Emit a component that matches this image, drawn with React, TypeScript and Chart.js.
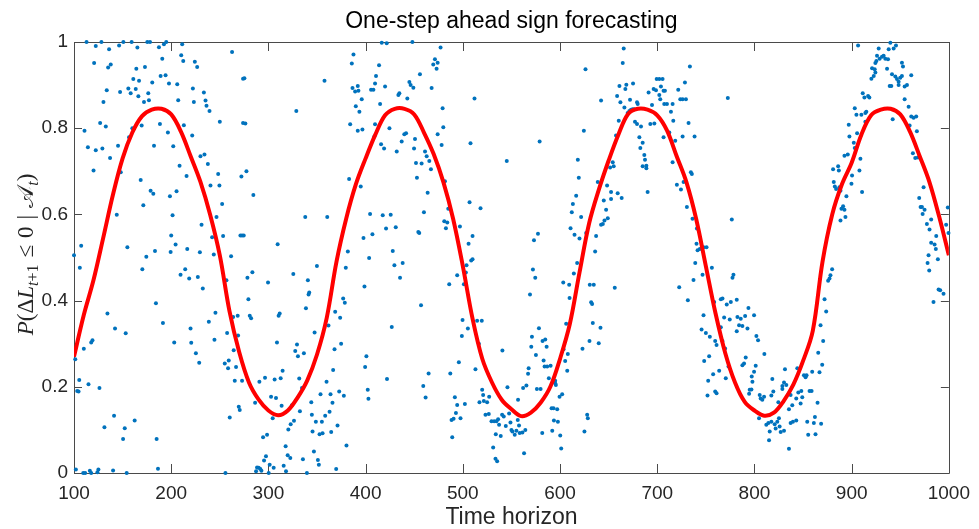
import React, { useEffect, useRef } from "react";
import { Chart, registerables } from "chart.js";

Chart.register(...registerables);

// ---------------- data ----------------
const chartTitle = "One-step ahead sign forecasting";
const xAxisLabel = "Time horizon";

const xTicks = [100, 200, 300, 400, 500, 600, 700, 800, 900, 1000];
const xTickLabels = ["100", "200", "300", "400", "500", "600", "700", "800", "900", "1000"];
const yTicks = [0, 0.2, 0.4, 0.6, 0.8, 1];
const yTickLabels = ["0", "0.2", "0.4", "0.6", "0.8", "1"];

// red fitted curve
const lineX = [
  100, 110, 120, 130, 140, 150, 160, 170, 180, 190, 200, 210, 220, 230, 240, 250, 260, 270, 280, 290,
  300, 310, 320, 330, 340, 350, 360, 370, 380, 390, 400, 410, 420, 430, 440, 450, 460, 470, 480, 490,
  500, 510, 520, 530, 540, 550, 560, 570, 580, 590, 600, 610, 620, 630, 640, 650, 660, 670, 680, 690,
  700, 710, 720, 730, 740, 750, 760, 770, 780, 790, 800, 810, 820, 830, 840, 850, 860, 870, 880, 890,
  900, 910, 920, 930, 940, 950, 960, 970, 980, 990, 1000,
];
const lineY = [
  0.27, 0.366, 0.447, 0.545, 0.645, 0.73, 0.79, 0.828, 0.843, 0.845, 0.832, 0.792, 0.735, 0.676, 0.6, 0.505, 0.375, 0.28, 0.21, 0.17,
  0.145, 0.134, 0.145, 0.175, 0.215, 0.275, 0.36, 0.49, 0.59, 0.67, 0.73, 0.785, 0.83, 0.845, 0.845, 0.832, 0.79, 0.74, 0.675, 0.59,
  0.48, 0.358, 0.265, 0.21, 0.17, 0.148, 0.132, 0.14, 0.163, 0.2, 0.265, 0.345, 0.465, 0.58, 0.658, 0.725, 0.785, 0.833, 0.845, 0.843,
  0.83, 0.795, 0.735, 0.675, 0.59, 0.48, 0.37, 0.278, 0.21, 0.165, 0.145, 0.133, 0.14, 0.167, 0.205, 0.26, 0.33, 0.49, 0.6, 0.67,
  0.72, 0.785, 0.83, 0.843, 0.845, 0.832, 0.792, 0.735, 0.675, 0.595, 0.505,
];

// blue observations [time, probability]
const scatterPoints: [number, number][] = [
  [112.9, 1.0], [110.8, 0.794], [114.3, 0.756], [120.1, 0.702], [107.4, 0.527], [100, 0.505], [106, 0.476], [110.1, 0.288],
  [117.7, 0.303], [119, 0.308], [101.3, 0.264], [105.4, 0.216], [103.3, 0.19], [104.7, 0.189], [114.9, 0.206], [101.9, 0.008],
  [109.5, 0], [111.5, 0], [116.3, 0.005], [117.7, 0],
  [128.2, 1.0], [146.4, 0.992], [150.8, 1.0], [159.3, 1.0], [136.1, 0.983], [165.2, 0.987], [175.4, 1.0], [178.2, 1.0],
  [187.4, 0.988], [192.5, 0.995], [194.9, 1.0], [211.3, 0.995], [190.8, 0.961], [210.3, 0.969], [212.4, 0.956], [262.6, 0.977],
  [224.3, 0.954], [226.7, 0.942], [122.4, 0.991], [120.7, 0.951], [135.1, 0.941], [137.8, 0.948], [164.1, 0.938], [173, 0.942],
  [161, 0.914], [166.9, 0.91], [189.1, 0.921], [194.2, 0.923], [197.7, 0.904], [206.2, 0.902], [180.5, 0.906], [222.3, 0.892],
  [233.6, 0.883], [133.7, 0.888], [147.4, 0.884], [155.9, 0.892], [158.3, 0.881], [163.5, 0.891], [166.2, 0.874], [176.4, 0.881],
  [172, 0.861], [177.1, 0.865], [130.3, 0.861], [207.2, 0.865], [223.3, 0.861], [235.3, 0.864], [236.3, 0.852], [239.4, 0.84],
  [273.9, 0.915], [126.9, 0.812], [132.7, 0.804], [160, 0.8], [169.6, 0.806], [188.4, 0.81], [213, 0.807], [250, 0.815],
  [273.9, 0.812], [156.6, 0.779], [196.6, 0.79], [221.6, 0.783], [122.4, 0.749], [129.2, 0.753], [145.3, 0.759], [182.3, 0.759],
  [202.1, 0.758], [230.1, 0.735], [234.2, 0.739], [137.1, 0.731], [148.1, 0.698], [208.6, 0.713], [215.8, 0.689], [237.7, 0.717],
  [248.3, 0.694], [272.2, 0.688], [240.4, 0.667], [249.6, 0.667], [168.6, 0.68], [178.8, 0.655], [181.6, 0.648], [205.5, 0.654],
  [198.7, 0.642], [171.3, 0.621], [252.4, 0.624], [144, 0.599], [201.4, 0.598], [246.6, 0.594], [271.2, 0.551], [272.9, 0.551],
  [242.1, 0.547], [253.4, 0.55], [200, 0.551], [231.2, 0.576], [154.9, 0.524], [174.4, 0.502], [183.3, 0.515], [204.5, 0.53],
  [199.4, 0.513], [216.5, 0.52], [229.5, 0.512], [243.8, 0.507], [261.6, 0.503], [170.3, 0.473], [214.4, 0.473], [209.6, 0.46],
  [218.5, 0.451], [227.4, 0.455], [232.5, 0.428], [256.8, 0.447], [134.4, 0.37], [245.5, 0.372], [184.3, 0.394], [238.7, 0.351],
  [263.7, 0.362], [268.4, 0.365], [142.2, 0.335], [153.2, 0.324], [191.5, 0.348], [219.9, 0.335], [257.5, 0.325], [268.8, 0.319],
  [203.1, 0.303], [220.6, 0.302], [244.5, 0.309], [264.3, 0.285], [225.4, 0.278], [228.8, 0.256], [255.1, 0.254], [259.2, 0.261],
  [258.5, 0.243], [266.7, 0.246], [265.4, 0.214], [272.9, 0.214], [126.2, 0.197], [269.5, 0.154], [270.5, 0.146], [260.2, 0.129],
  [141.2, 0.133], [162.4, 0.122], [131.3, 0.106], [152.2, 0.104], [150.5, 0.079], [185, 0.079], [125.1, 0.008], [124.1, 0.002],
  [140.2, 0.006], [154.2, 0], [186.4, 0.01], [255.8, 0],
  [416.6, 0.998], [421.7, 0.997], [387.5, 0.971], [385.8, 0.95], [413.8, 0.946], [275.3, 0.916], [357.7, 0.91], [410.7, 0.921],
  [409.7, 0.904], [391.9, 0.898], [386.5, 0.893], [389.2, 0.885], [392.6, 0.887], [405.6, 0.889], [408, 0.889], [420, 0.897],
  [396, 0.867], [414.9, 0.856], [389.9, 0.851], [393.6, 0.838], [328.7, 0.84], [276.3, 0.811], [384.1, 0.809], [409.7, 0.809],
  [391.9, 0.794], [396.7, 0.797], [409, 0.781], [415.9, 0.763], [419, 0.753], [277.4, 0.7], [284.5, 0.645], [383, 0.682],
  [395, 0.665], [337.9, 0.594], [360.5, 0.594], [404.6, 0.601], [417.6, 0.598], [421, 0.567], [407, 0.554], [397.8, 0.545],
  [274.6, 0.551], [309.5, 0.531], [381.7, 0.514], [403.6, 0.499], [349.9, 0.48], [325.6, 0.462], [379.6, 0.476], [283.5, 0.466],
  [278.4, 0.453], [299.6, 0.442], [340.6, 0.447], [398.8, 0.433], [342, 0.419], [341.3, 0.414], [376.9, 0.405], [378.6, 0.395],
  [279.4, 0.403], [338.6, 0.382], [368.7, 0.374], [373.8, 0.36], [311.6, 0.37], [310.5, 0.365], [280.8, 0.365], [282.2, 0.359],
  [361.8, 0.342], [347.5, 0.326], [308.8, 0.303], [329.4, 0.298], [374.8, 0.3], [368, 0.287], [327.6, 0.283], [330.4, 0.271],
  [336.5, 0.278], [400.8, 0.271], [399.5, 0.246], [422, 0.218], [366.6, 0.239], [314.6, 0.237], [296.5, 0.221], [306.4, 0.217],
  [312.6, 0.22], [331.7, 0.219], [290.7, 0.212], [359.8, 0.212], [334.5, 0.197], [353.6, 0.183], [363.9, 0.183], [377.6, 0.179],
  [372.8, 0.189], [402.2, 0.193], [402.9, 0.172], [302.7, 0.177], [307.8, 0.174], [286.3, 0.163], [344.1, 0.164], [365.9, 0.163],
  [313.6, 0.156], [324.2, 0.157], [332.4, 0.143], [344.7, 0.135], [358.4, 0.133], [362.9, 0.142], [304.4, 0.127], [348.8, 0.119],
  [355, 0.119], [322.9, 0.113], [326.3, 0.121], [371.1, 0.11], [320.5, 0.101], [345.4, 0.096], [352.6, 0.09], [355.7, 0.092],
  [364.6, 0.095], [294.5, 0.083], [298.6, 0.089], [380.3, 0.064], [317.7, 0.062], [319.8, 0.041], [322.5, 0.035], [346.8, 0.05],
  [335.5, 0.032], [297.5, 0.039], [295.5, 0.029], [350.9, 0.03], [351.9, 0.019], [288.3, 0.013], [290, 0.012], [291.7, 0.009],
  [292.8, 0.005], [287.3, 0.004], [301.3, 0.019], [305.4, 0.012], [315.7, 0.017], [318.1, 0.004], [339.6, 0], [369.7, 0.009],
  [300.3, 0],
  [448.1, 1.0], [477.1, 0.987], [471.3, 0.96], [469.6, 0.948], [474.1, 0.952], [473, 0.938], [455.9, 0.925], [445, 0.907],
  [446.3, 0.9], [449.1, 0.894], [467.9, 0.893], [434.7, 0.881], [433.7, 0.877], [442.9, 0.869], [512, 0.869], [479.2, 0.846],
  [424.5, 0.8], [441.6, 0.788], [439.8, 0.786], [474.1, 0.786], [479.9, 0.802], [437.1, 0.769], [450.8, 0.775], [478.2, 0.761],
  [507.9, 0.765], [432, 0.746], [449.8, 0.753], [461.1, 0.746], [462.8, 0.735], [465.5, 0.724], [451.8, 0.719], [457.6, 0.718],
  [467.2, 0.705], [545.2, 0.724], [481.6, 0.677], [452.8, 0.685], [463.8, 0.65], [506.9, 0.628], [518.2, 0.614], [485, 0.613],
  [460, 0.605], [480.9, 0.584], [484, 0.581], [482.6, 0.568], [497, 0.572], [510, 0.55], [454.2, 0.559], [455.2, 0.557],
  [505.9, 0.532], [425.8, 0.599], [431, 0.57], [427.9, 0.515], [510, 0.496], [508.6, 0.493], [503.8, 0.482], [429.6, 0.482],
  [438.1, 0.487], [435.4, 0.453], [494.2, 0.459], [503.1, 0.465], [486, 0.438], [501.1, 0.438], [457, 0.389], [426.9, 0.339],
  [499.7, 0.355], [514.7, 0.353], [519.5, 0.353], [505.2, 0.335], [499, 0.318], [516.5, 0.3], [540.7, 0.284], [495.9, 0.257],
  [513, 0.241], [567.1, 0.23], [464.8, 0.231], [487.1, 0.231], [459.3, 0.202], [461.7, 0.175], [519.9, 0.193], [520.9, 0.181],
  [527.1, 0.177], [517.1, 0.164], [521.6, 0.167], [525, 0.164], [545.9, 0.199], [556.8, 0.17], [562, 0.197], [565.4, 0.203],
  [491.8, 0.176], [502.1, 0.16], [494.2, 0.158], [492.9, 0.139], [490.5, 0.126], [488.4, 0.123], [497.6, 0.127], [489.1, 0.083],
  [523.3, 0.135], [526.7, 0.137], [529.5, 0.12], [532.2, 0.12], [534.6, 0.12], [536.3, 0.125], [540.4, 0.135], [542.1, 0.131],
  [537.3, 0.112], [544.2, 0.109], [547.6, 0.138], [549, 0.117], [550, 0.1], [551, 0.096], [553.4, 0.089], [555.1, 0.098],
  [558.5, 0.093], [561.3, 0.094], [564.3, 0.1], [557.8, 0.11], [556.5, 0.123], [533.9, 0.09], [539, 0.086], [531.2, 0.059],
  [533.6, 0.033], [535.3, 0.027], [563, 0.046],
  [665.5, 0.985], [664.5, 0.951], [626.2, 0.937], [699.4, 0.914], [702.1, 0.914], [705.5, 0.914], [661.1, 0.898], [668.2, 0.901],
  [675.1, 0.904], [667.2, 0.891], [691.1, 0.883], [696.3, 0.891], [698.7, 0.888], [703.8, 0.897], [706.5, 0.887], [707.9, 0.887],
  [702.1, 0.877], [703.1, 0.867], [642.2, 0.864], [658.7, 0.875], [672, 0.866], [679.2, 0.86], [679.9, 0.856], [662.1, 0.86],
  [666.2, 0.848], [671.3, 0.84], [669.6, 0.835], [673, 0.843], [674.7, 0.844], [676.4, 0.844], [694.6, 0.854], [707.2, 0.856],
  [710, 0.856], [714.1, 0.838], [677.1, 0.815], [679.2, 0.81], [683.3, 0.804], [692.9, 0.81], [697, 0.811], [660.4, 0.817],
  [624.5, 0.794], [579, 0.769], [657.6, 0.783], [681.6, 0.779], [706.5, 0.779], [712.4, 0.79], [685, 0.766], [682.6, 0.754],
  [686.7, 0.738], [687.4, 0.727], [685, 0.712], [688.8, 0.713], [688.8, 0.707], [618.3, 0.727], [654.2, 0.721], [655.2, 0.712],
  [651.5, 0.709], [619.3, 0.685], [638.8, 0.675], [648.4, 0.667], [652.5, 0.652], [659.3, 0.649], [663.4, 0.638], [690.1, 0.652],
  [616.6, 0.643], [645, 0.632], [652.5, 0.636], [613.2, 0.624], [612.1, 0.605], [647.4, 0.611], [621.7, 0.594], [649.1, 0.591],
  [645.7, 0.586], [644, 0.578], [642.2, 0.576], [610.8, 0.568], [614.9, 0.553], [620, 0.544], [626.9, 0.557], [637.1, 0.55],
  [573.2, 0.54], [577.3, 0.555], [636.1, 0.514], [617.6, 0.487], [572.1, 0.472], [574.5, 0.453], [614.2, 0.463], [603.3, 0.442],
  [609.4, 0.437], [630.6, 0.437], [634.7, 0.437], [656.3, 0.43], [569.1, 0.414], [609.8, 0.406], [632, 0.396], [633, 0.392],
  [633.7, 0.348], [606.3, 0.346], [641.6, 0.337], [578.3, 0.336], [571.1, 0.316], [582, 0.306], [584.8, 0.31], [570.4, 0.293],
  [586.2, 0.293], [630.3, 0.306], [639.8, 0.301], [623.1, 0.288], [603.6, 0.287], [575.2, 0.274], [608, 0.276], [583.1, 0.261],
  [605.3, 0.26], [584.1, 0.247], [586.8, 0.247], [590.3, 0.249], [607.4, 0.237], [567.7, 0.243], [588.5, 0.22], [595, 0.214],
  [576.2, 0.195], [580, 0.195], [595.7, 0.204], [595, 0.208], [599.5, 0.177], [602.2, 0.183], [591.3, 0.15], [593.3, 0.15],
  [597.1, 0.148], [593.7, 0.122], [597.8, 0.119], [627.9, 0.135], [628.6, 0.127], [581.7, 0.093], [592, 0.098], [600.2, 0.087],
  [625.1, 0.096], [601.2, 0.057],
  [733.6, 0.943], [728.5, 0.906], [721.6, 0.889], [723.7, 0.867], [726.1, 0.867], [729.5, 0.867], [715.8, 0.856], [772.6, 0.87],
  [716.5, 0.817], [732.2, 0.812], [726.1, 0.781], [738.4, 0.781], [718.5, 0.771], [715.8, 0.721], [734.6, 0.698], [735.6, 0.694],
  [720.2, 0.669], [724.4, 0.658], [727.1, 0.675], [730.5, 0.617], [736.3, 0.59], [776.7, 0.588], [740.8, 0.567], [740.4, 0.532],
  [743.8, 0.52], [741.5, 0.517], [747.6, 0.524], [750.7, 0.524], [739.1, 0.487], [756.2, 0.476], [746.6, 0.46], [737.3, 0.448],
  [778.4, 0.46], [777.4, 0.453], [722.6, 0.431], [731.5, 0.401], [767.1, 0.405], [765.4, 0.403], [781.8, 0.402], [775.7, 0.397],
  [771.5, 0.391], [793.8, 0.383], [799.6, 0.366], [758.6, 0.397], [747.6, 0.366], [768.8, 0.361], [774.6, 0.356], [782.5, 0.362],
  [785.9, 0.358], [790.4, 0.364], [784.2, 0.343], [787.6, 0.341], [781.8, 0.329], [792.8, 0.335], [765.4, 0.338], [745.6, 0.333],
  [750, 0.325], [754.1, 0.316], [759.6, 0.306], [761, 0.297], [802, 0.318], [803.7, 0.308], [767.1, 0.306], [769.8, 0.289],
  [810.2, 0.276], [753.4, 0.271], [748.3, 0.26], [791, 0.268], [789.3, 0.254], [801.3, 0.249], [787.6, 0.25], [773.3, 0.247],
  [763.7, 0.237], [757.5, 0.229], [752.4, 0.214], [770.5, 0.22], [797.2, 0.224], [799.6, 0.235], [797.9, 0.212], [818.4, 0.218],
  [831.4, 0.241], [828.7, 0.202], [830.4, 0.21], [832.8, 0.204], [844.1, 0.243], [850.9, 0.227], [852.6, 0.222], [853.6, 0.227],
  [859.4, 0.235], [795.1, 0.193], [796.9, 0.194], [794.5, 0.184], [805.4, 0.181], [806.4, 0.173], [808.1, 0.17], [809.9, 0.177],
  [817.4, 0.18], [819.4, 0.189], [824.6, 0.164], [828.7, 0.195], [835.5, 0.185], [837.2, 0.181], [845.1, 0.187], [848.2, 0.19],
  [849.2, 0.176], [856.7, 0.19], [858.8, 0.19], [843, 0.173], [847.5, 0.161], [838.9, 0.157], [835.5, 0.148], [761, 0.185],
  [759.6, 0.189], [751.7, 0.18], [804.7, 0.127], [812.2, 0.112], [814.3, 0.116], [817.4, 0.119], [820.8, 0.113], [823.5, 0.119],
  [825.9, 0.108], [827, 0.095], [815.7, 0.096], [830.4, 0.098], [821.8, 0.103], [825.2, 0.127], [815, 0.076], [835.5, 0.056],
  [837.2, 0.116], [839.6, 0.119], [843, 0.122], [854.3, 0.119], [862.2, 0.13], [861.1, 0.116], [855.3, 0.089],
  [906.6, 0.992], [939.8, 0.998], [943.2, 0.985], [938.1, 0.983], [945.6, 0.992], [927.8, 0.985], [926.1, 0.968], [928.8, 0.961],
  [931.2, 0.966], [932.9, 0.968], [934.6, 0.961], [937.4, 0.96], [925.4, 0.956], [924.4, 0.951], [951.7, 0.952], [952.8, 0.943],
  [921, 0.939], [923.7, 0.937], [922.7, 0.921], [920.3, 0.915], [924.4, 0.929], [936.4, 0.938], [941.5, 0.925], [944.9, 0.92],
  [946.6, 0.914], [950, 0.917], [948.3, 0.908], [951.7, 0.921], [961.3, 0.923], [956.9, 0.9], [954.5, 0.897], [939.1, 0.898],
  [940.8, 0.898], [948.3, 0.9], [911.4, 0.881], [916.9, 0.875], [913.1, 0.871], [918.2, 0.871], [903.2, 0.846], [954.5, 0.867],
  [958.6, 0.85], [915.1, 0.838], [914.1, 0.835], [910, 0.831], [904.9, 0.831], [961.3, 0.827], [963.7, 0.824], [966.4, 0.827],
  [897, 0.808], [914.1, 0.815], [942.2, 0.821], [959.6, 0.806], [967.1, 0.793], [905.6, 0.788], [897.7, 0.781], [902.2, 0.766],
  [903.2, 0.754], [896, 0.739], [892.6, 0.736], [909, 0.729], [963, 0.742], [965.4, 0.731], [968.2, 0.732], [880.9, 0.705],
  [886.1, 0.712], [886.8, 0.702], [900.4, 0.69], [908, 0.702], [899.8, 0.671], [881.6, 0.675], [882.7, 0.665], [884, 0.659],
  [887.4, 0.663], [888.5, 0.655], [910.7, 0.652], [894.6, 0.642], [974, 0.663], [969.5, 0.638], [972.3, 0.617], [970.9, 0.617],
  [975, 0.611], [973, 0.601], [891.2, 0.619], [889.5, 0.613], [892.6, 0.611], [893.6, 0.594], [888.5, 0.586], [981.8, 0.588],
  [977.4, 0.578], [980.1, 0.565], [987, 0.55], [998.9, 0.616], [997.2, 0.576], [999.6, 0.557], [981.8, 0.534], [985.3, 0.53],
  [986.6, 0.52], [988.7, 0.496], [979.1, 0.505], [978.1, 0.487], [979.8, 0.47], [879.9, 0.473], [878.2, 0.459], [877.2, 0.451],
  [875.8, 0.446], [989.4, 0.426], [991.1, 0.424], [994.5, 0.416], [984.2, 0.397], [872.1, 0.403], [873.8, 0.375], [868, 0.343],
  [870.7, 0.306], [865.6, 0.279], [869.7, 0.251], [866.9, 0.234], [864.9, 0.163], [868.6, 0.114], [862.8, 0.09],
];

// ---------------- styling ----------------
const SANS = '"Liberation Sans", Arial, Helvetica, sans-serif';
const SERIF = '"Liberation Serif", "Times New Roman", serif';
const AXIS_COLOR = "#262626";
const FRAME_COLOR = "#4a4a4a";

const decorPlugin = {
  id: "matlabDecor",
  beforeDatasetsDraw(chart: any) {
    const { ctx, chartArea } = chart;
    const { left, right, top, bottom } = chartArea;
    const xs = chart.scales.x;
    const ys = chart.scales.y;
    ctx.save();
    ctx.strokeStyle = FRAME_COLOR;
    ctx.lineWidth = 1;
    ctx.beginPath();
    ctx.rect(Math.round(left) + 0.5, Math.round(top) + 0.5, Math.round(right - left), Math.round(bottom - top));
    ctx.stroke();
    ctx.beginPath();
    for (const v of xTicks) {
      const px = Math.round(xs.getPixelForValue(v)) + 0.5;
      ctx.moveTo(px, bottom);
      ctx.lineTo(px, bottom - 9);
      ctx.moveTo(px, top);
      ctx.lineTo(px, top + 9);
    }
    for (const v of yTicks) {
      const py = Math.round(ys.getPixelForValue(v)) + 0.5;
      ctx.moveTo(left, py);
      ctx.lineTo(left + 8, py);
      ctx.moveTo(right, py);
      ctx.lineTo(right - 8, py);
    }
    ctx.stroke();
    ctx.restore();
  },
  afterDraw(chart: any) {
    const { ctx, chartArea } = chart;
    const cx = (chartArea.left + chartArea.right) / 2;
    const cy = (chartArea.top + chartArea.bottom) / 2;
    ctx.save();
    // title
    ctx.fillStyle = "#000";
    ctx.font = `23px ${SANS}`;
    ctx.textAlign = "center";
    ctx.textBaseline = "alphabetic";
    ctx.fillText(chartTitle, cx, 28);
    // x label
    ctx.fillStyle = AXIS_COLOR;
    ctx.font = `23px ${SANS}`;
    ctx.fillText(xAxisLabel, cx, 524);
    // y label (math)
    const S = 23;
    const s = 16;
    const sub = 5;
    const segs: { t: string; f: string; dy: number; gap?: number }[] = [
      { t: "P", f: `italic ${S}px ${SERIF}`, dy: 0 },
      { t: "(", f: `${S}px ${SERIF}`, dy: 0 },
      { t: "\u0394", f: `${S}px ${SERIF}`, dy: 0 },
      { t: "L", f: `italic ${S}px ${SERIF}`, dy: 0 },
      { t: "t", f: `italic ${s}px ${SERIF}`, dy: sub },
      { t: "+1", f: `${s}px ${SERIF}`, dy: sub },
      { t: "\u2264", f: `${S}px ${SERIF}`, dy: 0, gap: 7 },
      { t: "0", f: `${S}px ${SERIF}`, dy: 0, gap: 7 },
      { t: "|", f: `${S}px ${SERIF}`, dy: 0, gap: 7 },
      { t: "\uD835\uDC9C", f: `${S}px ${SERIF}`, dy: 0, gap: 7 },
      { t: "t", f: `italic ${s}px ${SERIF}`, dy: sub },
      { t: ")", f: `${S}px ${SERIF}`, dy: 0 },
    ];
    let total = 0;
    const widths: number[] = [];
    for (const sg of segs) {
      ctx.font = sg.f;
      const w = ctx.measureText(sg.t).width;
      widths.push(w);
      total += w + (sg.gap || 0);
    }
    ctx.translate(33, cy - 3);
    ctx.rotate(-Math.PI / 2);
    ctx.textAlign = "left";
    ctx.textBaseline = "alphabetic";
    let x = -total / 2;
    segs.forEach((sg, i) => {
      x += sg.gap || 0;
      ctx.font = sg.f;
      ctx.fillText(sg.t, x, sg.dy);
      x += widths[i];
    });
    ctx.restore();
  },
};

export default function App() {
  const canvasRef = useRef<HTMLCanvasElement | null>(null);

  useEffect(() => {
    const canvas = canvasRef.current;
    if (!canvas) return;
    const chart = new Chart(canvas, {
      type: "scatter",
      data: {
        datasets: [
          {
            type: "line",
            label: "fit",
            data: lineX.map((x, i) => ({ x, y: lineY[i] })),
            borderColor: "#FF0000",
            borderWidth: 4,
            pointRadius: 0,
            fill: false,
            tension: 0.35,
            order: 0,
          } as any,
          {
            type: "scatter",
            label: "obs",
            data: scatterPoints.map(([x, y]) => ({ x, y })),
            backgroundColor: "#0072BD",
            borderWidth: 0,
            pointRadius: 2,
            clip: false,
            order: 1,
          } as any,
        ],
      },
      options: {
        responsive: false,
        animation: false,
        events: [],
        layout: { padding: { top: 42, right: 27, left: 0, bottom: 0 } },
        plugins: {
          legend: { display: false },
          tooltip: { enabled: false },
          title: { display: false },
        },
        scales: {
          x: {
            type: "linear",
            min: 100,
            max: 1000,
            afterFit: (sc: any) => {
              sc.height = 56;
            },
            afterBuildTicks: (sc: any) => {
              sc.ticks = xTicks.map((v) => ({ value: v }));
            },
            grid: { display: false, drawTicks: false },
            border: { display: false },
            ticks: {
              color: AXIS_COLOR,
              font: { family: SANS, size: 19 },
              padding: 9,
              maxRotation: 0,
              autoSkip: false,
              callback: (v: any) => {
                const i = xTicks.indexOf(Number(v));
                return i >= 0 ? xTickLabels[i] : "";
              },
            },
          },
          y: {
            type: "linear",
            min: 0,
            max: 1,
            afterFit: (sc: any) => {
              sc.width = 74;
            },
            afterBuildTicks: (sc: any) => {
              sc.ticks = yTicks.map((v) => ({ value: v }));
            },
            grid: { display: false, drawTicks: false },
            border: { display: false },
            ticks: {
              color: AXIS_COLOR,
              font: { family: SANS, size: 19 },
              padding: 6,
              autoSkip: false,
              callback: (v: any) => {
                const i = yTicks.findIndex((t) => Math.abs(t - Number(v)) < 1e-9);
                return i >= 0 ? yTickLabels[i] : "";
              },
            },
          },
        },
      },
      plugins: [decorPlugin],
    });
    return () => chart.destroy();
  }, []);

  return (
    <div style={{ position: "absolute", left: 0, top: 0, width: 979, height: 529, background: "#fff" }}>
      <canvas ref={canvasRef} width={979} height={529} style={{ display: "block" }} />
    </div>
  );
}
